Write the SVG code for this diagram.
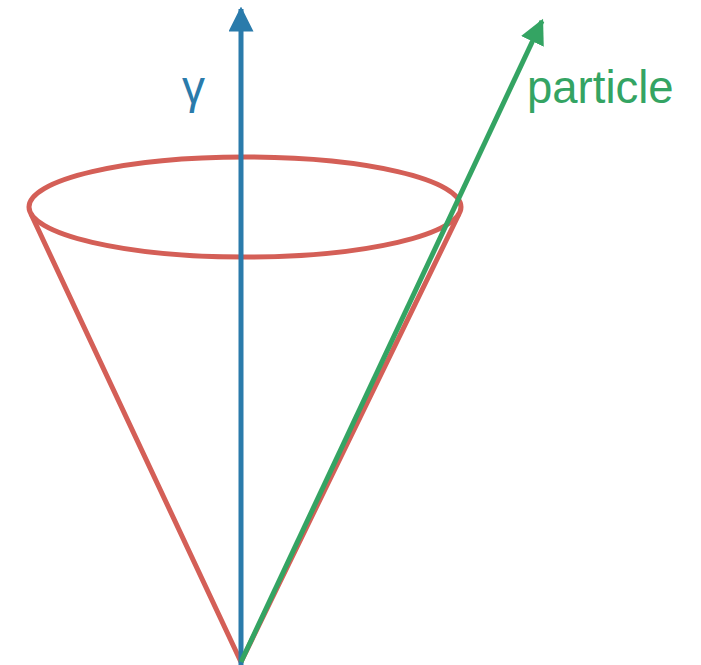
<svg xmlns="http://www.w3.org/2000/svg" width="701" height="665" viewBox="0 0 701 665">
<style>
.cone{fill:none;stroke:#d45f57;stroke-width:5;stroke-linejoin:round}
.lbl{font-family:"Liberation Sans",Arial,sans-serif}
</style>
<defs>
<marker id="ab" viewBox="0 0 10 10" refX="9" refY="5" markerWidth="5" markerHeight="5" markerUnits="strokeWidth" orient="auto"><path d="M0,0 L10,5 L0,10 Z" fill="#2a7bab"/></marker>
<marker id="ag" viewBox="0 0 10 10" refX="9" refY="5" markerWidth="5" markerHeight="5" markerUnits="strokeWidth" orient="auto"><path d="M0,0 L10,5 L0,10 Z" fill="#34a463"/></marker>
</defs>
<rect width="701" height="665" fill="#fff"/>
<g id="cone">
<ellipse class="cone" cx="245" cy="207" rx="216" ry="50"/>
<polyline class="cone" points="31,214 241,662 459,214"/>
</g>
<g id="connectors">
<line x1="241" y1="665" x2="241" y2="9" stroke="#2a7bab" stroke-width="5" marker-end="url(#ab)"/>
<line x1="241" y1="662" x2="542" y2="21" stroke="#34a463" stroke-width="5" marker-end="url(#ag)"/>
</g>
<g id="gamma"><text class="lbl" x="182" y="103" font-size="46" fill="#2a7bab">γ</text></g>
<g id="particle"><text class="lbl" x="527" y="103" font-size="45.5" fill="#34a463">particle</text></g>
</svg>
